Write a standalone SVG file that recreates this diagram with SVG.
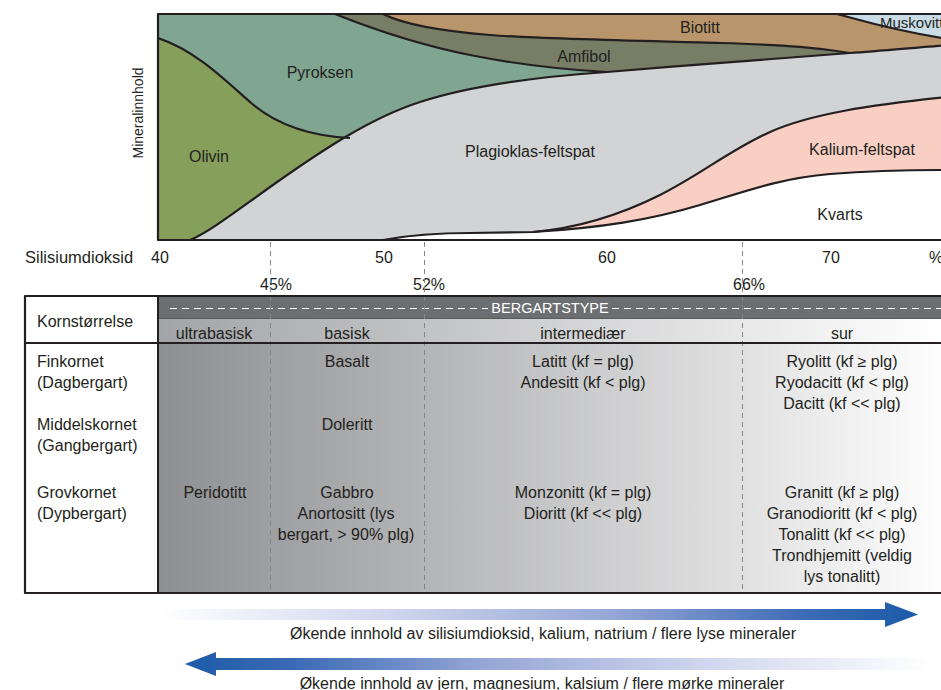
<svg xmlns="http://www.w3.org/2000/svg" width="941" height="690" viewBox="0 0 941 690">
<defs>
<style>
.t{font-family:"Liberation Sans",Arial,sans-serif;font-size:16px;fill:#231f20}
.m{text-anchor:middle}
.bd{fill:none;stroke:#231f20;stroke-width:2.2;stroke-linejoin:round}
.dv{fill:none;stroke:#858689;stroke-width:1;stroke-dasharray:5 4}
</style>
<clipPath id="cc"><rect x="158" y="14" width="790" height="226"/></clipPath>
<linearGradient id="gBody" gradientUnits="userSpaceOnUse" x1="158" y1="0" x2="941" y2="0">
<stop offset="0" stop-color="#8e8f92"/><stop offset="1" stop-color="#fdfdfd"/>
</linearGradient>
<linearGradient id="gSub" gradientUnits="userSpaceOnUse" x1="158" y1="0" x2="941" y2="0">
<stop offset="0" stop-color="#a3a4a7"/><stop offset="1" stop-color="#ffffff"/>
</linearGradient>
<linearGradient id="gR" gradientUnits="userSpaceOnUse" x1="160" y1="0" x2="918" y2="0">
<stop offset="0" stop-color="#ffffff"/><stop offset="0.3" stop-color="#d0d6ee"/><stop offset="0.6" stop-color="#95a6d6"/><stop offset="0.85" stop-color="#3d6bb6"/><stop offset="1" stop-color="#1b5aa7"/>
</linearGradient>
<linearGradient id="gL" gradientUnits="userSpaceOnUse" x1="930" y1="0" x2="185" y2="0">
<stop offset="0" stop-color="#ffffff"/><stop offset="0.3" stop-color="#d0d6ee"/><stop offset="0.6" stop-color="#95a6d6"/><stop offset="0.85" stop-color="#3d6bb6"/><stop offset="1" stop-color="#1b5aa7"/>
</linearGradient>
</defs>
<rect width="941" height="690" fill="#ffffff"/>

<g id="chart" clip-path="url(#cc)">
<rect x="158" y="14" width="790" height="226" fill="#d1d3d4"/>
<path id="pyroksen" fill="#80a692" d="M158,14 L158,240 L190,240 C210,232 240,208 280,180 C320,152 370,118 420,102 C460,89 520,78 607,72 C690,65 780,58 850,53 C880,51 910,48 941,46 L948,14 Z"/>
<path id="olivin" fill="#86a05b" d="M158,38 C195,50 225,80 250,102 C275,124 310,136 350,138 L350,240 L158,240 Z"/>
<path id="plagioklas" fill="#d1d3d4" d="M190,240 C210,232 240,208 280,180 C320,152 370,118 420,102 C460,89 520,78 607,72 C690,65 780,58 850,53 C880,51 910,48 948,45 L948,240 Z"/>
<path id="kalium" fill="#f9cfc4" d="M533,232 C580,228 620,215 660,195 C700,175 730,150 770,132 C810,114 870,105 948,97 L948,240 L533,240 Z"/>
<path id="kvarts" fill="#ffffff" d="M383,240 C410,235 440,233 470,233 L533,232 C600,228 650,220 700,205 C740,193 780,178 830,174 C870,171 900,170 948,170 L948,240 Z"/>
<path id="amfibol" fill="#787d66" d="M335,14 C370,28 420,45 470,55 C520,65 570,70 607,72 C690,65 780,58 850,53 C880,51 910,48 948,45 L948,14 Z"/>
<path id="biotitt" fill="#b9956b" d="M383,14 C405,25 440,31 490,35 S650,41 720,43 S820,48 850,53 C880,51 910,48 948,45 L948,14 Z"/>
<path id="muskovitt" fill="#cadde6" d="M837,14 C860,20 890,30 948,39 L948,14 Z"/>
<g id="boundaries">
<path class="bd" d="M158,38 C195,50 225,80 250,102 C275,124 310,136 350,138"/>
<path class="bd" d="M190,240 C210,232 240,208 280,180 C320,152 370,118 420,102 C460,89 520,78 607,72 C690,65 780,58 850,53 C880,51 910,48 948,45"/>
<path class="bd" d="M335,14 C370,28 420,45 470,55 C520,65 570,70 607,72"/>
<path class="bd" d="M383,14 C405,25 440,31 490,35 S650,41 720,43 S820,48 850,53"/>
<path class="bd" d="M837,14 C860,20 890,30 948,39"/>
<path class="bd" d="M383,240 C410,235 440,233 470,233 L533,232 C580,228 620,215 660,195 C700,175 730,150 770,132 C810,114 870,105 948,97"/>
<path class="bd" d="M533,232 C600,228 650,220 700,205 C740,193 780,178 830,174 C870,171 900,170 948,170"/>
</g>
</g>
<path class="bd" d="M948,14 L158,14 L158,240 L948,240"/>

<g id="chart-labels">
<text class="t m" x="320" y="78">Pyroksen</text>
<text class="t m" x="209" y="162">Olivin</text>
<text class="t m" x="530" y="157">Plagioklas-feltspat</text>
<text class="t m" x="584" y="62">Amfibol</text>
<text class="t m" x="700" y="33">Biotitt</text>
<text class="t m" x="862" y="155">Kalium-feltspat</text>
<text class="t m" x="840" y="220">Kvarts</text>
<text class="t" x="880" y="28" style="font-size:15px">Muskovitt</text>
<text class="t m" transform="translate(143,113) rotate(-90)" style="font-size:14px">Mineralinnhold</text>
</g>

<g id="axis">
<text class="t" x="25" y="263" style="font-size:16.5px">Silisiumdioksid</text>
<text class="t m" x="160" y="263">40</text>
<text class="t m" x="384" y="263">50</text>
<text class="t m" x="607" y="263">60</text>
<text class="t m" x="831" y="263">70</text>
<text class="t" x="929" y="263">%</text>
<text class="t m" x="276" y="290">45%</text>
<text class="t m" x="429" y="290">52%</text>
<text class="t m" x="749" y="290">66%</text>
</g>

<g id="table">
<rect x="158" y="343" width="790" height="250" fill="url(#gBody)"/>
<rect x="158" y="318" width="790" height="25" fill="url(#gSub)"/>
<rect x="158" y="296" width="790" height="22" fill="#6d6e71"/>
<line x1="158" y1="318.5" x2="948" y2="318.5" stroke="#58595b" stroke-width="1"/>
<rect x="25" y="296" width="133" height="297" fill="#ffffff"/>
<path d="M170,308.5 H488 M612,308.5 H948" stroke="#ffffff" stroke-width="1" stroke-dasharray="7 5" fill="none"/>
<text x="550" y="313" text-anchor="middle" style="font-family:'Liberation Sans',Arial,sans-serif;font-size:14.5px;fill:#ffffff">BERGARTSTYPE</text>
</g>

<g id="dividers">
<line class="dv" x1="270.5" y1="242" x2="270.5" y2="592"/>
<line class="dv" x1="424.5" y1="242" x2="424.5" y2="592"/>
<line class="dv" x1="742.5" y1="242" x2="742.5" y2="592"/>
</g>

<g id="table-lines">
<path class="bd" d="M948,296 H25 V593 H948"/>
<line x1="158" y1="296" x2="158" y2="593" stroke="#231f20" stroke-width="2"/>
<line x1="25" y1="343" x2="948" y2="343" stroke="#231f20" stroke-width="2"/>
</g>

<g id="table-text">
<text class="t" x="37" y="327">Kornstørrelse</text>
<text class="t" x="37" y="367">Finkornet</text>
<text class="t" x="37" y="388">(Dagbergart)</text>
<text class="t" x="37" y="430">Middelskornet</text>
<text class="t" x="37" y="451">(Gangbergart)</text>
<text class="t" x="37" y="498">Grovkornet</text>
<text class="t" x="37" y="519">(Dypbergart)</text>

<text class="t m" x="214" y="339">ultrabasisk</text>
<text class="t m" x="347" y="339">basisk</text>
<text class="t m" x="583" y="339">intermediær</text>
<text class="t m" x="842" y="339">sur</text>

<text class="t m" x="347" y="367">Basalt</text>
<text class="t m" x="347" y="430">Doleritt</text>
<text class="t m" x="215" y="498">Peridotitt</text>
<text class="t m" x="347" y="498">Gabbro</text>
<text class="t m" x="346" y="519">Anortositt (lys</text>
<text class="t m" x="346" y="540">bergart, &gt; 90% plg)</text>

<text class="t m" x="583" y="367">Latitt (kf = plg)</text>
<text class="t m" x="583" y="388">Andesitt (kf &lt; plg)</text>
<text class="t m" x="583" y="498">Monzonitt (kf = plg)</text>
<text class="t m" x="583" y="519">Dioritt (kf &lt;&lt; plg)</text>

<text class="t m" x="842" y="367">Ryolitt (kf ≥ plg)</text>
<text class="t m" x="842" y="388">Ryodacitt (kf &lt; plg)</text>
<text class="t m" x="842" y="409">Dacitt (kf &lt;&lt; plg)</text>
<text class="t m" x="842" y="498">Granitt (kf ≥ plg)</text>
<text class="t m" x="842" y="519">Granodioritt (kf &lt; plg)</text>
<text class="t m" x="842" y="540">Tonalitt (kf &lt;&lt; plg)</text>
<text class="t m" x="842" y="561">Trondhjemitt (veldig</text>
<text class="t m" x="842" y="582">lys tonalitt)</text>
</g>

<g id="arrows">
<path fill="url(#gR)" d="M160,609 L885,609 L885,602 L918,614.5 L885,627 L885,620 L160,620 Z"/>
<path fill="url(#gL)" d="M930,658 L216,658 L216,652 L185,664 L216,676 L216,670 L930,670 Z"/>
<text class="t m" x="543" y="639">Økende innhold av silisiumdioksid, kalium, natrium / flere lyse mineraler</text>
<text class="t m" x="542" y="689">Økende innhold av jern, magnesium, kalsium / flere mørke mineraler</text>
</g>
</svg>
